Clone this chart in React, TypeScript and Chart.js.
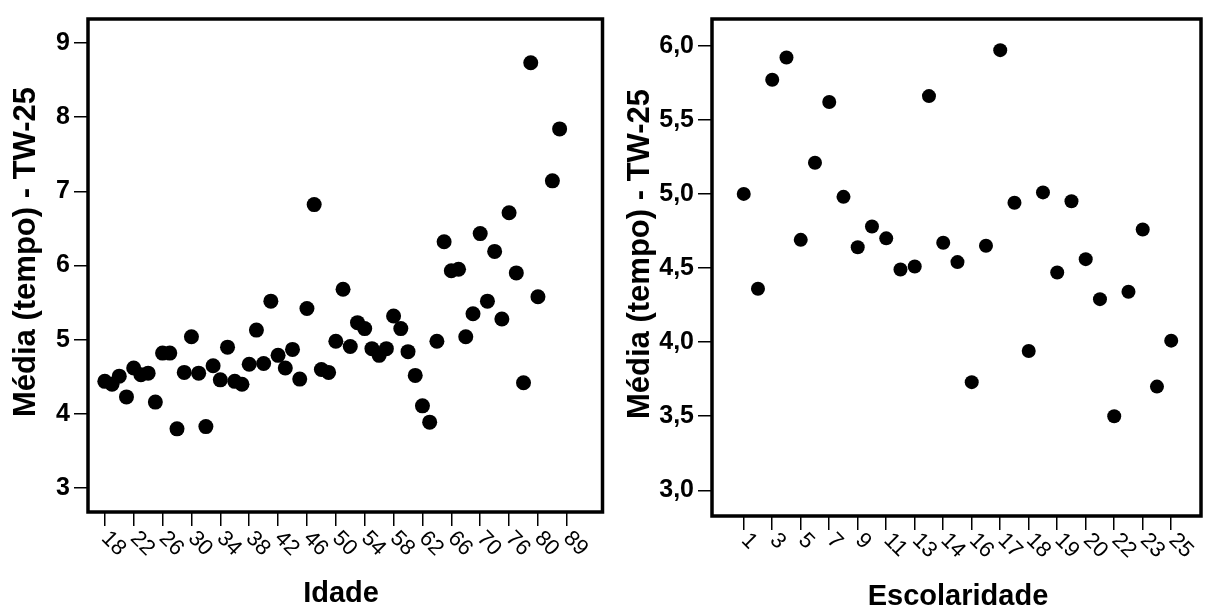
import React, { useEffect, useRef } from 'react';
import { Chart, registerables } from 'chart.js';

Chart.register(...registerables);

// ---------- DATA ----------
const idadeLabels = [
  '18', '19', '20', '21', '22', '23', '24', '25', '26', '27', '28', '29', '30', '31', '32', '33', '34', '35',
  '36', '37', '38', '39', '40', '41', '42', '43', '44', '45', '46', '47', '48', '49', '50', '51', '52', '53',
  '54', '55', '56', '57', '58', '59', '60', '61', '62', '63', '64', '65', '66', '67', '68', '69', '70',
  '71', '72', '74', '76', '77', '78', '79', '80', '82', '84', '86', '89',
];
const tempoIdade: (number | null)[] = [
  4.44, 4.40, 4.51, 4.23, 4.62, 4.53, 4.55, 4.16, 4.82, 4.82, 3.80, 4.56, 5.04, 4.55, 3.83, 4.65, 4.46, 4.90,
  4.44, 4.40, 4.67, 5.13, 4.68, 5.52, 4.79, 4.62, 4.87, 4.47, 5.42, 6.82, 4.60, 4.56, 4.98, 5.68, 4.91, 5.23,
  5.15, 4.88, 4.79, 4.88, 5.32, 5.15, 4.84, 4.52, 4.11, 3.89, 4.98, 6.32, 5.93, 5.95, 5.04, 5.35, 6.43,
  5.52, 6.19, 5.28, 6.71, 5.90, 4.42, 8.73, 5.58, null, 7.14, 7.84, null,
];
const idadeYTicks = [3, 4, 5, 6, 7, 8, 9];

const escolaridadeLabels = [
  '1', '2', '3', '4', '5', '6', '7', '8', '9', '10', '11', '12', '13', '13,5', '14', '15', '16', '16,5',
  '17', '17,5', '18', '18,5', '19', '19,5', '20', '21', '22', '22,5', '23', '24', '25',
];
const tempoEscolaridade: (number | null)[] = [
  5.00, 4.36, 5.77, 5.92, 4.69, 5.21, 5.62, 4.98, 4.64, 4.78, 4.70, 4.49, 4.51, 5.66, 4.67, 4.54,
  3.73, 4.65, 5.97, 4.94, 3.94, 5.01, 4.47, 4.95, 4.56, 4.29, 3.50, 4.34, 4.76, 3.70, 4.01,
];
const escolaridadeYTicks = [3.0, 3.5, 4.0, 4.5, 5.0, 5.5, 6.0];

const yTitle = 'Média (tempo) - TW-25';
const FONT = "'Liberation Sans', Arial, sans-serif";

// ---------- PLUGIN ----------
const panelPlugin = {
  id: 'panel',
  beforeDatasetsDraw(chart: any) {
    const { ctx, chartArea } = chart;
    ctx.save();
    ctx.strokeStyle = '#000';
    ctx.lineWidth = 3.5;
    ctx.strokeRect(chartArea.left, chartArea.top, chartArea.right - chartArea.left, chartArea.bottom - chartArea.top);
    ctx.restore();
  },
  afterDraw(chart: any, _args: any, opts: any) {
    const { ctx, chartArea } = chart;
    const xs = chart.scales.x;
    ctx.save();
    ctx.fillStyle = '#000';
    ctx.font = `${opts.tickFontSize}px ${FONT}`;
    ctx.textAlign = 'left';
    ctx.textBaseline = 'middle';
    xs.ticks.forEach((t: any) => {
      const px = xs.getPixelForValue(t.value);
      ctx.save();
      ctx.translate(px + opts.dx, chartArea.bottom + opts.dy);
      ctx.rotate(opts.angle);
      ctx.fillText(opts.labels[t.value], 0, 0);
      ctx.restore();
    });
    // x title
    ctx.font = `bold ${opts.titleSize}px ${FONT}`;
    ctx.textAlign = 'center';
    ctx.textBaseline = 'middle';
    ctx.fillText(opts.xTitle, opts.xTitleX, opts.xTitleY);
    // y title
    ctx.save();
    ctx.translate(opts.yTitleX, opts.yTitleY);
    ctx.rotate(-Math.PI / 2);
    ctx.font = `bold ${opts.yTitleSize}px ${FONT}`;
    ctx.fillText(yTitle, 0, 0);
    ctx.restore();
    ctx.restore();
  },
};

type PanelCfg = {
  labels: string[];
  values: (number | null)[];
  yTicks: number[];
  yFmt: (v: number) => string;
  xMin: number;
  xMax: number;
  yMin: number;
  yMax: number;
  labelStep: number;
  yAxisWidth: number;
  xAxisHeight: number;
  padTop: number;
  padRight: number;
  radius: number;
  xTitle: string;
  xTitleX: number;
  xTitleY: number;
  yTitleX: number;
  yTitleY: number;
  dx: number;
  dy: number;
};

function makeChart(canvas: HTMLCanvasElement, c: PanelCfg) {
  const pts = c.values
    .map((v, i) => (v == null ? null : { x: i, y: v }))
    .filter((p) => p !== null) as { x: number; y: number }[];
  const xTickVals = c.labels.map((_, i) => i).filter((i) => i % c.labelStep === 0);
  const gridOpts = {
    drawOnChartArea: false,
    drawTicks: true,
    tickLength: 14,
    color: '#000',
    lineWidth: 1.5,
  };
  return new Chart(canvas, {
    type: 'scatter',
    data: {
      datasets: [
        {
          data: pts,
          pointRadius: c.radius,
          pointHoverRadius: c.radius,
          pointBackgroundColor: '#000',
          pointBorderWidth: 0,
          pointBorderColor: '#000',
        },
      ],
    },
    plugins: [panelPlugin],
    options: {
      animation: false,
      responsive: false,
      maintainAspectRatio: false,
      events: [],
      layout: { padding: { left: 0, right: c.padRight, top: c.padTop, bottom: 0 } },
      plugins: {
        legend: { display: false },
        tooltip: { enabled: false },
        panel: {
          labels: c.labels,
          tickFontSize: 22,
          angle: Math.PI / 4,
          dx: c.dx,
          dy: c.dy,
          xTitle: c.xTitle,
          xTitleX: c.xTitleX,
          xTitleY: c.xTitleY,
          titleSize: 29,
          yTitleSize: 31,
          yTitleX: c.yTitleX,
          yTitleY: c.yTitleY,
        },
      } as any,
      scales: {
        x: {
          type: 'linear',
          min: c.xMin,
          max: c.xMax,
          afterBuildTicks: (s: any) => {
            s.ticks = xTickVals.map((v) => ({ value: v }));
          },
          afterFit: (s: any) => {
            s.height = c.xAxisHeight;
          },
          ticks: { display: false },
          grid: gridOpts,
          border: { display: false },
        },
        y: {
          type: 'linear',
          min: c.yMin,
          max: c.yMax,
          afterBuildTicks: (s: any) => {
            s.ticks = c.yTicks.map((v) => ({ value: v }));
          },
          afterFit: (s: any) => {
            s.width = c.yAxisWidth;
          },
          ticks: {
            color: '#000',
            padding: 4,
            font: { size: 25, weight: 'bold', family: FONT },
            callback: (v: any) => c.yFmt(Number(v)),
          },
          grid: gridOpts,
          border: { display: false },
        },
      },
    } as any,
  });
}

function Panel({ left, width, cfg }: { left: number; width: number; cfg: PanelCfg }) {
  const ref = useRef<HTMLCanvasElement | null>(null);
  useEffect(() => {
    if (!ref.current) return;
    const chart = makeChart(ref.current, cfg);
    return () => chart.destroy();
  }, []);
  return (
    <canvas
      ref={ref}
      width={width}
      height={610}
      style={{ position: 'absolute', left, top: 0, width, height: 610 }}
    />
  );
}

const idadeCfg: PanelCfg = {
  labels: idadeLabels,
  values: tempoIdade,
  yTicks: idadeYTicks,
  yFmt: (v) => String(Math.round(v)),
  xMin: -2.33,
  xMax: 68.94,
  yMin: 2.68,
  yMax: 9.32,
  labelStep: 4,
  yAxisWidth: 88,
  xAxisHeight: 98,
  padTop: 13,
  padRight: 3,
  radius: 7.5,
  xTitle: 'Idade',
  xTitleX: 341,
  xTitleY: 594,
  yTitleX: 26,
  yTitleY: 252,
  dx: 0,
  dy: 23,
};

const escCfg: PanelCfg = {
  labels: escolaridadeLabels,
  values: tempoEscolaridade,
  yTicks: escolaridadeYTicks,
  yFmt: (v) => v.toFixed(1).replace('.', ','),
  xMin: -2.227,
  xMax: 32.09,
  yMin: 2.827,
  yMax: 6.18,
  labelStep: 2,
  yAxisWidth: 102,
  xAxisHeight: 94,
  padTop: 13,
  padRight: 3,
  radius: 7,
  xTitle: 'Escolaridade',
  xTitleX: 348,
  xTitleY: 597,
  yTitleX: 30,
  yTitleY: 254,
  dx: 1,
  dy: 21,
};

export default function App() {
  return (
    <div style={{ position: 'fixed', left: 0, top: 0, width: 1208, height: 610, background: '#fff' }}>
      <Panel left={0} width={610} cfg={idadeCfg} />
      <Panel left={610} width={598} cfg={escCfg} />
    </div>
  );
}
